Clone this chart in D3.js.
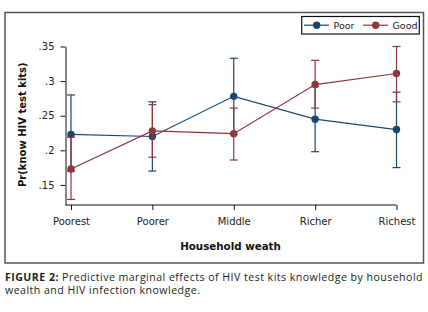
<!DOCTYPE html>
<html>
<head>
<meta charset="utf-8">
<script src="https://cdn.jsdelivr.net/npm/d3@7"></script>
<style>
  body { margin: 0; background: #fff; }
  svg { display: block; }
</style>
</head>
<body>
<div id="chart"></div>
<script>
// data
const categories = ["Poorest", "Poorer", "Middle", "Richer", "Richest"];
const poorMean = [0.223, 0.220, 0.278, 0.245, 0.230];
const poorLow  = [0.170, 0.170, 0.223, 0.198, 0.175];
const poorHigh = [0.280, 0.270, 0.333, 0.292, 0.284];
const goodMean = [0.173, 0.228, 0.224, 0.295, 0.311];
const goodLow  = [0.129, 0.190, 0.186, 0.261, 0.270];
const goodHigh = [0.219, 0.266, 0.261, 0.330, 0.350];
const yTicks = [0.15, 0.2, 0.25, 0.3, 0.35];

const width = 428, height = 312;
const navy = "#1a476f", maroon = "#90353b";

const series = [
  { name: "Poor", color: navy, mean: poorMean, low: poorLow, high: poorHigh },
  { name: "Good", color: maroon, mean: goodMean, low: goodLow, high: goodHigh }
];

const svg = d3.select("#chart")
  .append("svg")
  .attr("width", width)
  .attr("height", height);

// outer frame
svg.append("rect")
  .attr("x", 5).attr("y", 12.5)
  .attr("width", 418.5).attr("height", 250.5)
  .attr("fill", "none")
  .attr("stroke", "#555")
  .attr("stroke-width", 1.5);

const axisX = 65.5; // where the y axis sits

const x = d3.scalePoint().domain(categories).range([71, 396.5]);
const y = d3.scaleLinear().domain([0.121, 0.35]).range([205, 46.5]);

// y axis
const yAxis = svg.append("g")
  .attr("transform", `translate(${axisX},0)`)
  .call(d3.axisLeft(y).tickValues(yTicks).tickSize(5).tickPadding(6)
    .tickSizeOuter(0)
    .tickFormat(d => d3.format(".2f")(d).replace(/^0/, "").replace(/0$/, "")));
yAxis.selectAll("text")
  .attr("font-family", "DejaVu Sans")
  .attr("font-size", 10)
  .attr("fill", "#222");
yAxis.selectAll("line, path").attr("stroke", "#111");

// x axis
const xAxis = svg.append("g")
  .attr("transform", `translate(0,${y.range()[0]})`)
  .call(d3.axisBottom(x).tickSize(5).tickPadding(7.5).tickSizeOuter(0));
xAxis.select(".domain").remove();
xAxis.append("line")
  .attr("x1", axisX).attr("x2", x.range()[1])
  .attr("stroke", "#111");
xAxis.selectAll("text")
  .attr("font-family", "DejaVu Sans")
  .attr("font-size", 10)
  .attr("fill", "#222");
xAxis.selectAll("line").attr("stroke", "#111");

// axis titles
svg.append("text")
  .attr("x", 230.5).attr("y", 249.5)
  .attr("text-anchor", "middle")
  .attr("font-family", "DejaVu Sans")
  .attr("font-weight", "bold")
  .attr("font-size", 10.3)
  .attr("fill", "#111")
  .text("Household weath");

svg.append("text")
  .attr("transform", "translate(25.5,124.7) rotate(-90)")
  .attr("text-anchor", "middle")
  .attr("font-family", "DejaVu Sans")
  .attr("font-weight", "bold")
  .attr("font-size", 10)
  .attr("fill", "#111")
  .text("Pr(know HIV test kits)");

// series: error bars, lines, markers
const line = d3.line().x(d => x(d.cat)).y(d => y(d.v));

series.forEach(s => {
  const pts = categories.map((c, i) => ({ cat: c, v: s.mean[i], lo: s.low[i], hi: s.high[i] }));
  const g = svg.append("g").attr("stroke", s.color).attr("fill", s.color);

  const bars = g.append("g").selectAll("g").data(pts).join("g");
  bars.append("line")
    .attr("x1", d => x(d.cat)).attr("x2", d => x(d.cat))
    .attr("y1", d => y(d.lo)).attr("y2", d => y(d.hi))
    .attr("stroke-width", 1.2);
  bars.selectAll(".cap")
    .data(d => [{ cat: d.cat, v: d.lo }, { cat: d.cat, v: d.hi }])
    .join("line")
    .attr("x1", d => x(d.cat) - 4).attr("x2", d => x(d.cat) + 4)
    .attr("y1", d => y(d.v)).attr("y2", d => y(d.v))
    .attr("stroke-width", 1.2);

  g.append("path")
    .datum(pts)
    .attr("fill", "none")
    .attr("stroke-width", 1.2)
    .attr("d", line);

  g.selectAll("circle")
    .data(pts)
    .join("circle")
    .attr("cx", d => x(d.cat))
    .attr("cy", d => y(d.v))
    .attr("r", 3.7)
    .attr("stroke", "none");
});

// legend
const legend = svg.append("g");
legend.append("rect")
  .attr("x", 301.7).attr("y", 16.5)
  .attr("width", 117.6).attr("height", 17.5)
  .attr("fill", "#fff")
  .attr("stroke", "#111")
  .attr("stroke-width", 1.2);

const legendX = [304, 363];
series.forEach((s, i) => {
  const lg = legend.append("g").attr("transform", `translate(${legendX[i]},25.2)`);
  lg.append("line").attr("x1", 0).attr("x2", 25).attr("stroke", s.color).attr("stroke-width", 1.2);
  lg.append("circle").attr("cx", 12.7).attr("r", 3.7).attr("fill", s.color);
  lg.append("text")
    .attr("x", 29.5).attr("dy", "0.35em")
    .attr("font-family", "DejaVu Sans")
    .attr("font-size", 9.5)
    .attr("fill", "#222")
    .text(s.name);
});

// caption (Calibri-like: a touch bigger, squeezed letter spacing)
const capSize = 10.6;
const caption = svg.append("g")
  .attr("font-family", "'Open Sans', sans-serif")
  .attr("font-size", capSize)
  .attr("fill", "#231f20");

const line1 = caption.append("text").attr("x", 5).attr("y", 280.5);
line1.append("tspan").attr("font-weight", "bold").text("FIGURE 2:");
line1.append("tspan").text(" Predictive marginal effects of HIV test kits knowledge by household");

const line2 = caption.append("text").attr("x", 5).attr("y", 294)
  .text("wealth and HIV infection knowledge.");

// squeeze the letters so line one spans the figure width
const n1 = line1.text().length;
const w1 = line1.node().getComputedTextLength();
const ls = (418 - w1) / n1;
caption.attr("letter-spacing", ls);
</script>
</body>
</html>
